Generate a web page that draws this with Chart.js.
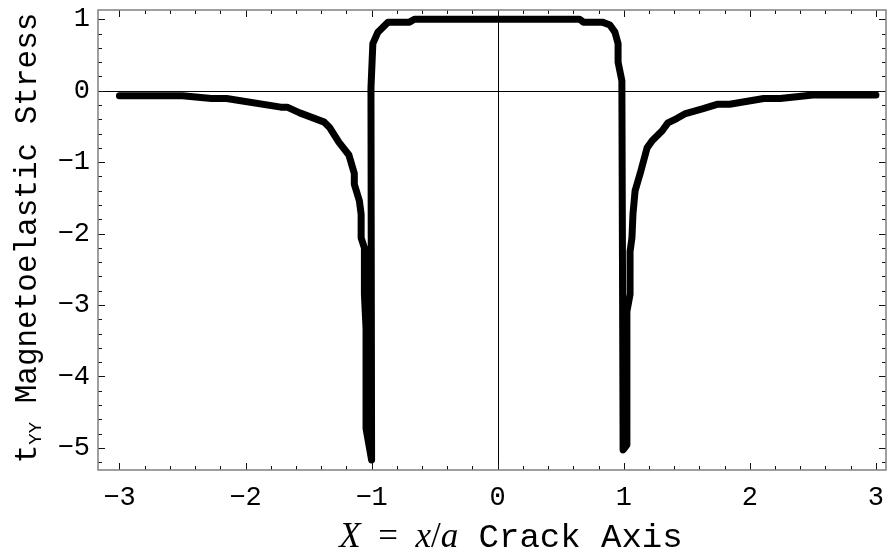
<!DOCTYPE html>
<html>
<head>
<meta charset="utf-8">
<script src="https://cdn.jsdelivr.net/npm/chart.js@4.4.0/dist/chart.umd.min.js"></script>
<style>
  body { margin: 0; background: #fff; }
</style>
</head>
<body>
<canvas id="stress" width="887" height="559"></canvas>
<script>
// X = x/a along the crack and the t_YY magnetoelastic stress
const crackX = [-3.0, -2.5, -2.27, -2.15, -1.72, -1.67, -1.57, -1.375, -1.335, -1.26,
  -1.18, -1.137, -1.137, -1.097, -1.083, -1.083, -1.057, -1.057, -1.044, -1.044,
  -1.0, -1.005, -0.99, -0.95, -0.87, -0.70, -0.66, 0.65, 0.68, 0.83,
  0.89, 0.93, 0.955, 0.955, 0.985, 0.995, 1.025, 1.025, 1.05, 1.05,
  1.065, 1.073, 1.09, 1.13, 1.185, 1.225, 1.305, 1.35, 1.42, 1.49,
  1.63, 1.74, 1.84, 2.11, 2.24, 2.5, 3.0];
const stressY = [-0.07, -0.07, -0.11, -0.11, -0.23, -0.23, -0.31, -0.44, -0.51, -0.72,
  -0.9, -1.16, -1.31, -1.54, -1.73, -2.06, -2.2, -2.85, -3.33, -4.73,
  -5.17, 0.04, 0.66, 0.82, 0.96, 0.96, 1.0, 1.0, 0.96, 0.96,
  0.92, 0.82, 0.66, 0.4, 0.14, -5.03, -4.96, -3.09, -2.85, -2.25,
  -2.06, -1.73, -1.4, -1.16, -0.8, -0.7, -0.56, -0.45, -0.39, -0.32,
  -0.25, -0.19, -0.19, -0.11, -0.11, -0.06, -0.06];

const xTicks = [-3, -2, -1, 0, 1, 2, 3];
const yTicks = [1, 0, -1, -2, -3, -4, -5];
const minorStep = 0.2;

const mono = '"Liberation Mono", "Courier New", monospace';
const serif = '"Liberation Serif", serif';

function minus(v) {
  return v < 0 ? '\u2212' + Math.abs(v) : String(v);
}

// draws a row of text pieces (different fonts) centred on cx
function drawPieces(ctx, pieces, cx, cy) {
  let total = 0;
  pieces.forEach(p => { ctx.font = p.font; p.w = ctx.measureText(p.text).width; total += p.w; });
  let px = cx - total / 2;
  pieces.forEach(p => {
    ctx.font = p.font;
    ctx.fillText(p.text, px, cy + (p.dy || 0));
    px += p.w;
  });
}

// keep the plot box where the reference has it, no label overhang padding
function noPad(s) {
  s.paddingTop = 0; s.paddingBottom = 0; s.paddingLeft = 0; s.paddingRight = 0;
}

const framePlugin = {
  id: 'framePlugin',
  beforeDatasetsDraw(chart) {
    const { ctx, chartArea: a, scales: { x, y } } = chart;
    ctx.save();
    ctx.strokeStyle = '#000';
    ctx.lineWidth = 1;
    const x0 = Math.round(x.getPixelForValue(0)) + 0.5;
    const y0 = Math.round(y.getPixelForValue(0)) + 0.5;
    ctx.beginPath();
    ctx.moveTo(x0, a.top); ctx.lineTo(x0, a.bottom);
    ctx.moveTo(a.left, y0); ctx.lineTo(a.right, y0);
    ctx.stroke();
    ctx.restore();
  },
  afterDraw(chart) {
    const { ctx, chartArea: a, scales: { x, y } } = chart;
    ctx.save();
    // ticks on all four sides, pointing inwards
    ctx.strokeStyle = '#111';
    ctx.lineWidth = 1;
    ctx.beginPath();
    for (let v = Math.ceil(x.min / minorStep) * minorStep; v <= x.max; v += minorStep) {
      const major = Math.abs(v - Math.round(v)) < 1e-6;
      const len = major ? 7 : 4;
      const px = Math.round(x.getPixelForValue(v)) + 0.5;
      ctx.moveTo(px, a.bottom); ctx.lineTo(px, a.bottom - len);
      ctx.moveTo(px, a.top); ctx.lineTo(px, a.top + len);
    }
    for (let v = Math.ceil(y.min / minorStep) * minorStep; v <= y.max; v += minorStep) {
      const major = Math.abs(v - Math.round(v)) < 1e-6;
      const len = major ? 7 : 4;
      const py = Math.round(y.getPixelForValue(v)) + 0.5;
      ctx.moveTo(a.left, py); ctx.lineTo(a.left + len, py);
      ctx.moveTo(a.right, py); ctx.lineTo(a.right - len, py);
    }
    ctx.stroke();
    // frame
    ctx.strokeStyle = '#808080';
    ctx.lineWidth = 1.5;
    ctx.strokeRect(a.left, a.top, a.right - a.left, a.bottom - a.top);

    // axis titles
    ctx.fillStyle = '#000';
    ctx.textBaseline = 'alphabetic';
    drawPieces(ctx, [
      { text: 'X', font: 'italic 35px ' + serif },
      { text: '\u2002=\u2002', font: '35px ' + serif },
      { text: 'x', font: 'italic 35px ' + serif },
      { text: '/', font: '35px ' + serif },
      { text: 'a', font: 'italic 35px ' + serif },
      { text: ' Crack Axis', font: '34px ' + mono }
    ], 511, 547);

    ctx.translate(36, 238);
    ctx.rotate(-Math.PI / 2);
    drawPieces(ctx, [
      { text: 't', font: '31px ' + mono },
      { text: 'YY', font: '19px ' + mono, dy: 5 },
      { text: ' Magnetoelastic Stress', font: '31px ' + mono }
    ], 0, 0);
    ctx.restore();
  }
};

new Chart(document.getElementById('stress'), {
  type: 'scatter',
  data: {
    datasets: [{
      data: crackX.map((v, i) => ({ x: v, y: stressY[i] })),
      showLine: true,
      borderColor: '#000',
      backgroundColor: '#000',
      borderWidth: 7,
      borderCapStyle: 'round',
      borderJoinStyle: 'round',
      pointRadius: 0,
      tension: 0
    }]
  },
  options: {
    responsive: false,
    animation: false,
    devicePixelRatio: 1,
    layout: { padding: { top: 10, right: 1, left: 0, bottom: 0 } },
    plugins: { legend: { display: false }, tooltip: { enabled: false } },
    scales: {
      x: {
        type: 'linear',
        min: -3.17,
        max: 3.08,
        grid: { display: false, drawTicks: false },
        border: { display: false },
        afterBuildTicks: s => { s.ticks = xTicks.map(v => ({ value: v })); },
        afterFit: s => { s.height = 89; noPad(s); },
        ticks: {
          autoSkip: false,
          maxRotation: 0,
          padding: 12,
          color: '#000',
          font: { family: mono, size: 27 },
          callback: v => minus(v)
        }
      },
      y: {
        type: 'linear',
        min: -5.31,
        max: 1.13,
        grid: { display: false, drawTicks: false },
        border: { display: false },
        afterBuildTicks: s => { s.ticks = yTicks.map(v => ({ value: v })); },
        afterFit: s => { s.width = 98; noPad(s); },
        ticks: {
          autoSkip: false,
          padding: 8,
          color: '#000',
          font: { family: mono, size: 27 },
          callback: v => minus(v)
        }
      }
    }
  },
  plugins: [framePlugin]
});
</script>
</body>
</html>
